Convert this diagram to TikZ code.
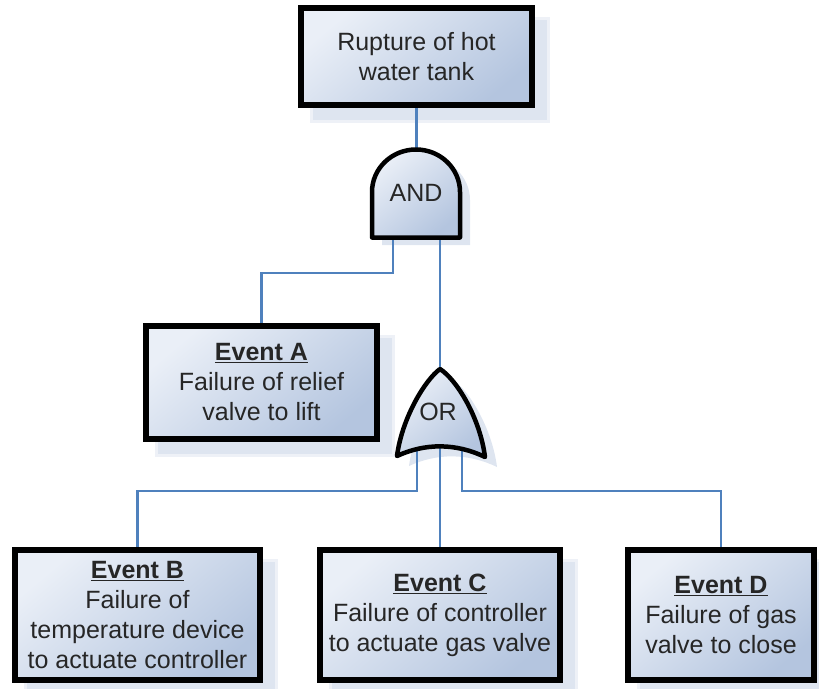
\documentclass[tikz,border=0pt]{standalone}
\usepackage{fontspec}
\setmainfont{Liberation Sans}
\usetikzlibrary{calc}
\pgfdeclarelayer{shadowlayer}
\pgfdeclarelayer{linelayer}
\pgfsetlayers{shadowlayer,linelayer,main}

\definecolor{fillA}{RGB}{234,239,247}
\definecolor{fillB}{RGB}{180,197,223}
\definecolor{connc}{RGB}{79,129,189}
\definecolor{shadc}{RGB}{222,229,240}
\definecolor{shadcsoft}{RGB}{238,241,247}
\definecolor{txtc}{RGB}{38,38,38}

\tikzset{
  evbox/.style={draw=black, line width=6pt, inner sep=0pt, outer sep=0pt,
    top color=fillA, bottom color=fillB, shading angle=40,
    text=txtc, font=\fontsize{25}{30}\selectfont, align=center},
  gate/.style={draw=black, line width=4.5pt, line join=round,
    top color=fillA, bottom color=fillB, shading angle=40},
  gateshadow/.style={fill=shadc},
  conn/.style={draw=connc, line width=2.5pt},
  lbl/.style={text=txtc, font=\fontsize{25}{30}\selectfont, align=center, inner sep=0pt}
}

\newcommand{\boxshadow}[1]{%
  \fill[shadcsoft] ($(#1.north west)+(9,9)$) rectangle ($(#1.south east)+(18,18)$);
  \fill[shadc] ($(#1.north west)+(12,12)$) rectangle ($(#1.south east)+(15,15)$);
}

\begin{document}
\begin{tikzpicture}[x=1pt, y=-1pt]
\useasboundingbox (0,0) rectangle (819,688);

% event boxes
\node[evbox, minimum width=231pt, minimum height=97pt] (top) at (416.5,56.5) {Rupture of hot\\water tank};
\node[evbox, minimum width=231pt, minimum height=113pt] (evA) at (261.5,382.5)
  {\underline{\textbf{Event A}}\\Failure of relief\\valve to lift};
\node[evbox, minimum width=245pt, minimum height=130pt] (evB) at (137.5,615)
  {\underline{\textbf{Event B}}\\Failure of\\temperature device\\to actuate controller};
\node[evbox, minimum width=240pt, minimum height=130pt] (evC) at (440,615)
  {\underline{\textbf{Event C}}\\Failure of controller\\to actuate gas valve};
\node[evbox, minimum width=186pt, minimum height=130pt] (evD) at (721,615)
  {\underline{\textbf{Event D}}\\Failure of gas\\valve to close};

% gates
\path[gate] (372,237.5) -- (372,192) .. controls (372,168.5) and (391.7,149.5) .. (416,149.5)
  .. controls (440.3,149.5) and (460,168.5) .. (460,192) -- (460,237.5) -- cycle;
\path[gate] (440,369) .. controls (425,380) and (402,418) .. (397,456)
  .. controls (425,443) and (456,443) .. (485,457)
  .. controls (480,418) and (457,380) .. (440,369) -- cycle;
\node[lbl] (andlbl) at (416,193) {AND};
\node[lbl] (orlbl) at (438,412) {OR};

% connection points inside gates
\coordinate (andIn) at (416.5,170);
\coordinate (andL) at (393,230);
\coordinate (andR) at (440,230);
\coordinate (orTop) at (440,385);
\coordinate (orL) at (417,440);
\coordinate (orM) at (440,440);
\coordinate (orR) at (462,440);

\begin{pgfonlayer}{shadowlayer}
  \boxshadow{top}
  \boxshadow{evA}
  \boxshadow{evB}
  \boxshadow{evC}
  \boxshadow{evD}
  \path[gateshadow] (382,245) -- (382,200) .. controls (382,176.5) and (401.7,157.5) .. (426,157.5)
    .. controls (450.3,157.5) and (470,176.5) .. (470,200) -- (470,245) -- cycle;
  \path[gateshadow] (452,379) .. controls (437,390) and (414,428) .. (409,466)
    .. controls (437,453) and (468,453) .. (497,467)
    .. controls (492,428) and (469,390) .. (452,379) -- cycle;
\end{pgfonlayer}

\begin{pgfonlayer}{linelayer}
  \draw[conn] (top.south) -- (andIn);
  \draw[conn] (andL) -- ++(0,43) -| (evA.north);
  \draw[conn] (andR) -- (orTop);
  \draw[conn] (orL) -- ++(0,51) -| (evB.north);
  \draw[conn] (orM) -- (evC.north);
  \draw[conn] (orR) -- ++(0,51) -| (evD.north);
\end{pgfonlayer}
\end{tikzpicture}
\end{document}
